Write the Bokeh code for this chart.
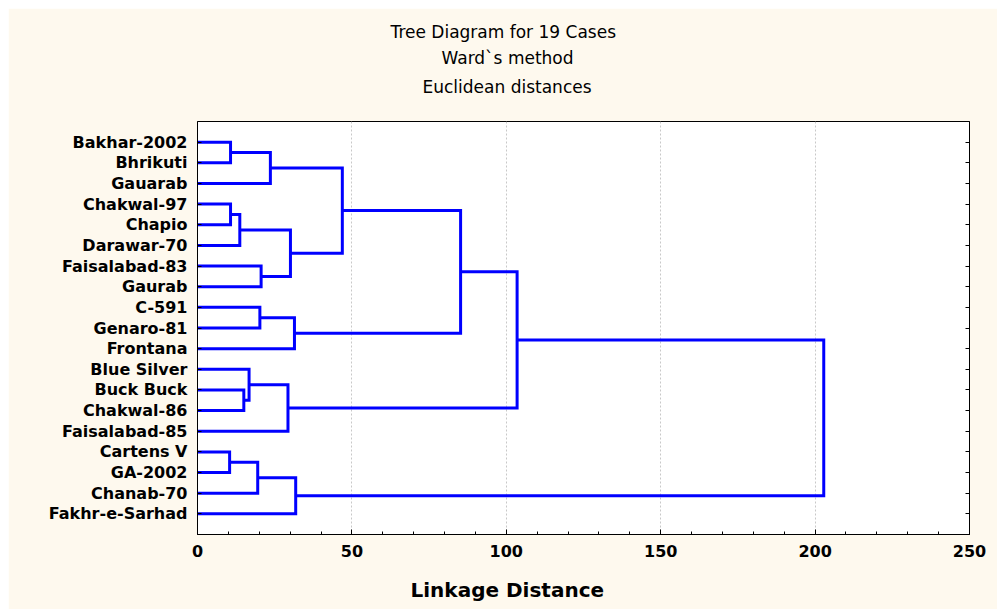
from bokeh.plotting import figure
from bokeh.models import Range1d, LinearAxis, FixedTicker, Title
from bokeh.embed import file_html
from bokeh.resources import INLINE

# ---- data ----
cases = ["Bakhar-2002", "Bhrikuti", "Gauarab", "Chakwal-97", "Chapio", "Darawar-70",
         "Faisalabad-83", "Gaurab", "C-591", "Genaro-81", "Frontana", "Blue Silver",
         "Buck Buck", "Chakwal-86", "Faisalabad-85", "Cartens V", "GA-2002",
         "Chanab-70", "Fakhr-e-Sarhad"]
# merges: new cluster ids start at len(cases)
merge_left = [0, 19, 3, 21, 6, 22, 20, 8, 26, 25, 12, 11, 30, 28, 15, 33, 34, 32]
merge_right = [1, 2, 4, 5, 7, 23, 24, 9, 10, 27, 13, 29, 14, 31, 16, 17, 18, 35]
merge_height = [10.7, 23.6, 10.7, 13.7, 20.6, 30.1, 46.9, 20.2, 31.4, 85.2,
                15.0, 16.7, 29.3, 103.5, 10.4, 19.5, 31.8, 202.8]
x_ticks = [0, 50, 100, 150, 200, 250]
x_minor = [v for v in range(0, 251, 10) if v % 50 != 0]
title_lines = ["Tree Diagram for 19 Cases", "Ward`s method", "Euclidean distances"]
x_label = "Linkage Distance"

FONT = "DejaVu Sans"

# ---- dendrogram geometry from the merge table ----
n = len(cases)
pos = {i: i + 1 for i in range(n)}
hgt = {i: 0.0 for i in range(n)}
xs, ys = [], []
for k, (a, b, h) in enumerate(zip(merge_left, merge_right, merge_height)):
    xs.append([hgt[a], h, h, hgt[b]])
    ys.append([pos[a], pos[a], pos[b], pos[b]])
    pos[n + k] = (pos[a] + pos[b]) / 2
    hgt[n + k] = h

p = figure(width=989, height=601, x_range=Range1d(0, 250), y_range=Range1d(n + 1, 0),
           output_backend="svg", toolbar_location=None, margin=(8, 0, 0, 8),
           min_border_left=189, min_border_right=28, min_border_top=113, min_border_bottom=75)
p.title = None
p.border_fill_color = "#fef9ee"
p.background_fill_color = "white"
p.outline_line_color = "black"
p.outline_line_width = 1

p.multi_line(xs=xs, ys=ys, line_color="#0000ff", line_width=3, line_join="miter")

# left axis: case names
ya = p.yaxis[0]
ya.ticker = FixedTicker(ticks=list(range(1, n + 1)), minor_ticks=[])
ya.major_label_overrides = {i + 1: c for i, c in enumerate(cases)}
ya.major_label_text_font = FONT
ya.major_label_text_font_style = "bold"
ya.major_label_text_font_size = "16px"
ya.major_label_text_color = "black"
ya.major_tick_in = 4
ya.major_tick_out = 0
ya.major_label_standoff = 10
ya.axis_line_color = "black"

# right axis: ticks only
ra = LinearAxis(ticker=FixedTicker(ticks=list(range(1, n + 1)), minor_ticks=[]),
                major_label_overrides={i + 1: "" for i in range(n)},
                major_tick_in=4, major_tick_out=0,
                axis_line_color="black", major_label_standoff=0)
p.add_layout(ra, "right")

xa = p.xaxis[0]
xa.ticker = FixedTicker(ticks=x_ticks, minor_ticks=x_minor)
xa.major_label_text_font = FONT
xa.major_label_text_font_style = "bold"
xa.major_label_text_font_size = "16px"
xa.major_label_text_color = "black"
xa.major_tick_in = 5
xa.major_tick_out = 0
xa.minor_tick_in = 3
xa.minor_tick_out = 0
xa.major_label_standoff = 10
xa.axis_line_color = "black"

p.xgrid.ticker = FixedTicker(ticks=[t for t in x_ticks if 0 < t < 250])
p.xgrid.grid_line_color = "#c8c8c8"
p.xgrid.grid_line_dash = "2 2"
p.ygrid.visible = False

# spacer between frame and the titles
p.add_layout(Title(text=" ", standoff=17, text_font_size="1px"), "above")
# titles stacked above the frame (innermost first), left-aligned with offsets
# so that their centres sit at the reference's centre line
title_offsets = [193, 244, 225]
title_standoffs = [3, 5, 9]
for t, off, so in reversed(list(zip(title_lines, title_offsets, title_standoffs))):
    p.add_layout(Title(text=t, align="left", offset=off, standoff=so,
                       text_font=FONT, text_font_size="17px", text_font_style="normal",
                       text_color="black"), "above")

# spacer between the x axis and its label
p.add_layout(Title(text=" ", standoff=13, text_font_size="1px"), "below")
p.add_layout(Title(text=x_label, align="left", offset=213, standoff=0,
                   text_font=FONT, text_font_size="20px", text_font_style="bold",
                   text_color="black"), "below")

open("out.html", "w").write(file_html(p, INLINE))
